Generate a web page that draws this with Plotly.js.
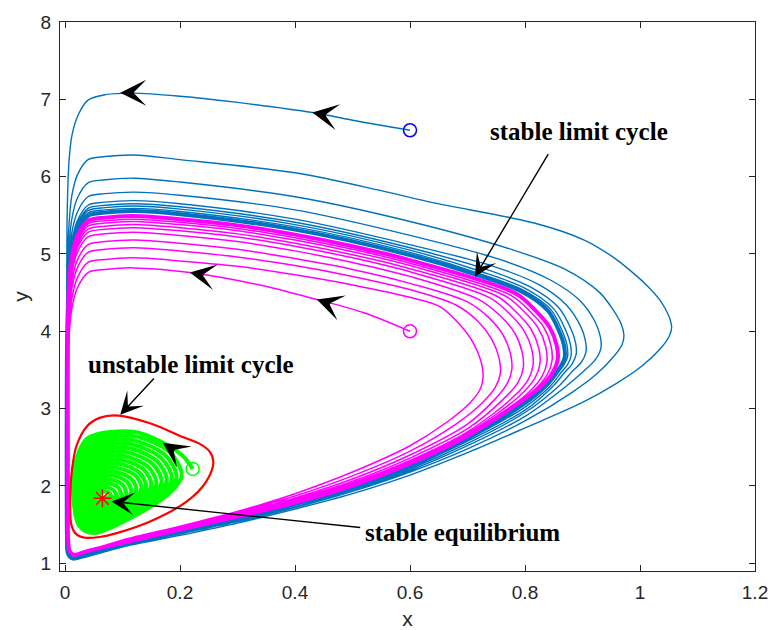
<!DOCTYPE html>
<html><head><meta charset="utf-8">
<script src="https://cdn.plot.ly/plotly-3.0.1.min.js"></script>
<style>html,body{margin:0;padding:0;background:#fff}#chart{width:768px;height:630px}</style>
</head><body><div id="chart"></div>
<script>
// ---- data ----
const xTickVals = [0, 0.2, 0.4, 0.6, 0.8, 1, 1.2];
const yTickVals = [1, 2, 3, 4, 5, 6, 7, 8];
const blueStart = [0.6, 6.6];
const magentaStart = [0.6, 4.0];
const greenStart = [0.222, 2.22];
const equilibrium = [0.065, 1.84];

const blueTrajectory = [
[0.6,6.6],[0.5,6.73],[0.43,6.83],[0.3,6.96],[0.2,7.04],[0.12,7.08],[0.07,7.06],[0.04,6.99],[0.023,6.8],[0.012,6.53],[0.007,6.2],[0.004,5.6],[0.003,4.5],[0.003,3.2],[0.003,2.2],[0.0035,1.4],[0.005,1.15],[0.012,1.05],[0.03,1.07],
[0.1,1.21],[0.2,1.36],[0.3,1.52],[0.4,1.7],[0.5,1.9],[0.6,2.14],[0.7,2.43],[0.8,2.75],[0.9,3.08],[0.96,3.33],[1.005,3.56],[1.036,3.78],[1.051,3.94],
[1.055,4.05],[1.05,4.2],[1.035,4.4],[1.015,4.57],[0.995,4.71],[0.955,4.95],[0.903,5.18],[0.816,5.40],[0.642,5.66],[0.555,5.81],[0.4,6.05],[0.2,6.22],[0.12,6.28],[0.07,6.26],[0.04,6.22],[0.022,6.03],[0.012,5.76],[0.007,5.38],[0.004,4.78],
[0.003,3.5],[0.003,2.2],[0.0035,1.4],[0.005,1.15],[0.012,1.055],[0.03,1.075],
[0.1,1.22],[0.2,1.38],[0.3,1.54],[0.4,1.72],[0.5,1.93],[0.6,2.18],[0.7,2.48],[0.8,2.84],[0.88,3.2],[0.925,3.45],[0.955,3.68],[0.969,3.83],
[0.972,3.95],[0.967,4.1],[0.953,4.28],[0.93,4.5],[0.87,4.8],[0.78,5.05],[0.6,5.42],[0.4,5.74],[0.2,5.93],[0.12,5.98],[0.07,5.96],[0.04,5.92],[0.022,5.73],[0.012,5.46],[0.007,5.08],[0.004,4.48],
[0.003,3.5],[0.003,2.2],[0.0035,1.4],[0.005,1.15],[0.012,1.058],[0.03,1.078],
[0.1,1.23],[0.2,1.39],[0.3,1.55],[0.4,1.73],[0.5,1.95],[0.6,2.2],[0.7,2.52],[0.8,2.9],[0.87,3.28],[0.9,3.47],[0.922,3.63],
[0.932,3.78],[0.931,3.93],[0.922,4.12],[0.895,4.4],[0.845,4.66],[0.76,4.92],[0.6,5.24],[0.4,5.57],[0.2,5.76],[0.12,5.80],[0.07,5.78],[0.04,5.74],[0.022,5.55],[0.012,5.28],[0.007,4.9],[0.004,4.3],
[0.003,3.5],[0.003,2.2],[0.0035,1.4],[0.005,1.15],[0.012,1.06],[0.03,1.08],
[0.1,1.235],[0.2,1.4],[0.3,1.56],[0.4,1.75],[0.5,1.96],[0.6,2.22],[0.7,2.55],[0.8,2.95],[0.86,3.3],[0.882,3.48],[0.898,3.6],
[0.906,3.73],[0.905,3.88],[0.897,4.06],[0.872,4.34],[0.825,4.6],[0.745,4.84],[0.6,5.12],[0.4,5.45],[0.2,5.65],[0.12,5.69],[0.07,5.67],[0.04,5.63],[0.022,5.44],[0.012,5.17],[0.007,4.79],[0.004,4.2],
[0.003,3.5],[0.003,2.2],[0.0035,1.4],[0.005,1.15],[0.012,1.062],[0.03,1.082],
[0.1,1.24],[0.2,1.405],[0.3,1.57],[0.4,1.755],[0.5,1.97],[0.6,2.24],[0.7,2.58],[0.8,2.98],[0.85,3.3],[0.868,3.46],[0.882,3.58],
[0.889,3.70],[0.888,3.85],[0.88,4.03],[0.858,4.31],[0.81,4.57],[0.733,4.8],[0.6,5.08],[0.4,5.41],[0.2,5.61],[0.12,5.65],[0.07,5.63],[0.04,5.59],[0.022,5.4],[0.012,5.13],[0.007,4.75],[0.004,4.15],
[0.003,3.5],[0.003,2.2],[0.0035,1.4],[0.005,1.15],[0.012,1.064],[0.03,1.084],
[0.1,1.245],[0.2,1.41],[0.3,1.58],[0.4,1.76],[0.5,1.98],[0.6,2.25],[0.7,2.6],[0.8,3.02],[0.845,3.3],[0.862,3.46],[0.874,3.57],
[0.88,3.68],[0.879,3.83],[0.871,4.01],[0.85,4.29],[0.802,4.55],[0.725,4.77],[0.6,5.05],[0.4,5.38],[0.2,5.58],[0.12,5.62],[0.07,5.6],[0.04,5.56],[0.022,5.37],[0.012,5.1],[0.007,4.72],[0.004,4.12],
[0.003,3.5],[0.003,2.2],[0.0035,1.4],[0.005,1.15],[0.012,1.066],[0.03,1.086],
[0.1,1.25],[0.2,1.415],[0.3,1.585],[0.4,1.765],[0.5,1.985],[0.6,2.26],[0.7,2.61],[0.8,3.05],[0.84,3.3],[0.857,3.46],[0.868,3.57],
[0.874,3.67],[0.873,3.82],[0.865,4.0],[0.845,4.28],[0.798,4.53],[0.72,4.75],[0.6,5.02],[0.4,5.35],[0.2,5.55],[0.12,5.59],[0.07,5.57],[0.04,5.53],[0.022,5.34],[0.012,5.07],[0.007,4.69],[0.004,4.1],
[0.003,3.5],[0.003,2.2],[0.0035,1.4],[0.005,1.15],[0.012,1.068],[0.03,1.088],
[0.1,1.255],[0.2,1.42],[0.3,1.59],[0.4,1.77],[0.5,1.99],[0.6,2.27],[0.7,2.62],[0.8,3.08],[0.84,3.33],[0.855,3.47],[0.864,3.57],[0.869,3.66]
];

const blueLimitBand = [
[0.869,3.66],[0.868,3.81],[0.86,3.99],[0.84,4.265],[0.794,4.515],[0.716,4.73],[0.6,4.985],[0.4,5.315],[0.2,5.515],[0.12,5.555],[0.07,5.535],[0.04,5.495],[0.022,5.305],[0.012,5.035],[0.007,4.655],[0.004,4.05],[0.003,3.0],[0.003,2.0],[0.0035,1.35],[0.005,1.13],[0.012,1.065],[0.03,1.09],
[0.1,1.255],[0.2,1.42],[0.3,1.59],[0.4,1.77],[0.5,1.99],[0.6,2.27],[0.7,2.62],[0.8,3.08],[0.84,3.33],[0.855,3.47],[0.864,3.57],[0.869,3.66]
];

const magentaTrajectory = [
[0.6,4.0],[0.52,4.24],[0.438,4.41],[0.35,4.58],[0.217,4.76],[0.12,4.82],[0.07,4.8],[0.04,4.76],[0.022,4.57],[0.012,4.3],[0.007,3.92],[0.005,3.32],[0.005,2.5],[0.005,1.7],[0.0055,1.3],[0.008,1.16],[0.015,1.11],[0.04,1.16],
[0.1,1.3],[0.2,1.48],[0.3,1.67],[0.4,1.9],[0.5,2.18],[0.6,2.52],[0.665,2.83],[0.705,3.08],[0.722,3.25],
[0.727,3.4],[0.724,3.6],[0.71,3.85],[0.685,4.1],[0.652,4.32],[0.6,4.44],[0.5,4.6],[0.4,4.73],[0.3,4.84],[0.2,4.91],[0.12,4.95],[0.07,4.93],[0.04,4.89],[0.022,4.7],[0.012,4.43],[0.007,4.05],[0.005,3.45],
[0.005,2.5],[0.005,1.7],[0.0055,1.3],[0.008,1.16],[0.015,1.11],[0.04,1.16],
[0.1,1.295],[0.2,1.47],[0.3,1.66],[0.4,1.87],[0.5,2.13],[0.6,2.45],[0.68,2.8],[0.725,3.07],[0.748,3.27],
[0.757,3.45],[0.755,3.65],[0.742,3.9],[0.718,4.13],[0.68,4.34],[0.6,4.54],[0.5,4.71],[0.4,4.85],[0.3,4.96],[0.2,5.04],[0.12,5.08],[0.07,5.06],[0.04,5.02],[0.022,4.83],[0.012,4.56],[0.007,4.18],[0.005,3.58],
[0.005,2.5],[0.005,1.7],[0.0055,1.3],[0.008,1.16],[0.015,1.11],[0.04,1.16],
[0.1,1.29],[0.2,1.46],[0.3,1.645],[0.4,1.845],[0.5,2.09],[0.6,2.4],[0.7,2.8],[0.745,3.1],[0.768,3.31],
[0.777,3.5],[0.775,3.7],[0.762,3.95],[0.738,4.17],[0.7,4.38],[0.6,4.62],[0.5,4.8],[0.4,4.94],[0.3,5.06],[0.2,5.14],[0.12,5.18],[0.07,5.16],[0.04,5.12],[0.022,4.93],[0.012,4.66],[0.007,4.28],[0.005,3.68],
[0.005,2.5],[0.005,1.7],[0.0055,1.3],[0.008,1.16],[0.015,1.11],[0.04,1.16],
[0.1,1.285],[0.2,1.455],[0.3,1.635],[0.4,1.825],[0.5,2.06],[0.6,2.36],[0.7,2.74],[0.762,3.12],[0.788,3.34],
[0.797,3.53],[0.795,3.73],[0.782,3.98],[0.757,4.2],[0.72,4.41],[0.6,4.71],[0.5,4.89],[0.4,5.04],[0.3,5.16],[0.2,5.24],[0.12,5.28],[0.07,5.26],[0.04,5.22],[0.022,5.03],[0.012,4.76],[0.007,4.38],[0.005,3.78],
[0.005,2.5],[0.005,1.7],[0.0055,1.3],[0.008,1.16],[0.015,1.11],[0.04,1.16],
[0.1,1.28],[0.2,1.45],[0.3,1.625],[0.4,1.81],[0.5,2.04],[0.6,2.33],[0.7,2.7],[0.778,3.14],[0.805,3.37],
[0.814,3.56],[0.812,3.76],[0.799,4.0],[0.774,4.22],[0.74,4.43],[0.6,4.77],[0.5,4.95],[0.4,5.1],[0.3,5.22],[0.2,5.3],[0.12,5.34],[0.07,5.32],[0.04,5.28],[0.022,5.09],[0.012,4.82],[0.007,4.44],[0.005,3.84],
[0.005,2.5],[0.005,1.7],[0.0055,1.3],[0.008,1.16],[0.015,1.11],[0.04,1.16],
[0.1,1.275],[0.2,1.445],[0.3,1.615],[0.4,1.8],[0.5,2.025],[0.6,2.315],[0.7,2.68],[0.79,3.16],[0.817,3.39],
[0.826,3.58],[0.824,3.78],[0.811,4.02],[0.786,4.24],[0.752,4.45],[0.6,4.81],[0.5,4.99],[0.4,5.14],[0.3,5.26],[0.2,5.34],[0.12,5.38],[0.07,5.36],[0.04,5.32],[0.022,5.13],[0.012,4.86],[0.007,4.48],[0.005,3.88],
[0.005,2.5],[0.005,1.7],[0.0055,1.3],[0.008,1.16],[0.015,1.11],[0.04,1.16],
[0.1,1.27],[0.2,1.44],[0.3,1.61],[0.4,1.795],[0.5,2.015],[0.6,2.3],[0.7,2.665],[0.802,3.18],[0.829,3.41],
[0.838,3.6],[0.836,3.8],[0.823,4.04],[0.798,4.26],[0.765,4.46],[0.6,4.85],[0.5,5.03],[0.4,5.18],[0.3,5.3],[0.2,5.38],[0.12,5.42],[0.07,5.4],[0.04,5.36],[0.022,5.17],[0.012,4.9],[0.007,4.52],[0.005,3.92],
[0.005,2.5],[0.005,1.7],[0.0055,1.3],[0.008,1.16],[0.015,1.11],[0.04,1.16],
[0.1,1.268],[0.2,1.437],[0.3,1.607],[0.4,1.79],[0.5,2.01],[0.6,2.295],[0.7,2.655],[0.81,3.2],[0.838,3.43],
[0.847,3.62],[0.845,3.82],[0.832,4.06],[0.807,4.27],[0.774,4.47],[0.6,4.88],[0.5,5.06],[0.4,5.21],[0.3,5.33],[0.2,5.41],[0.12,5.45],[0.07,5.43],[0.04,5.39],[0.022,5.2],[0.012,4.93],[0.007,4.55],[0.005,3.95],
[0.005,2.5],[0.005,1.7],[0.0055,1.3],[0.008,1.16],[0.015,1.11],[0.04,1.16],
[0.1,1.265],[0.2,1.435],[0.3,1.605],[0.4,1.785],[0.5,2.005],[0.6,2.29],[0.7,2.65],[0.82,3.24],[0.845,3.43],[0.857,3.64]
];

const magentaLimitBand = [
[0.857,3.64],[0.855,3.82],[0.843,4.05],[0.818,4.27],[0.784,4.49],[0.6,4.92],[0.5,5.1],[0.4,5.25],[0.3,5.37],[0.2,5.45],[0.12,5.49],[0.07,5.47],[0.04,5.43],[0.022,5.24],[0.012,4.97],[0.007,4.59],[0.005,3.99],
[0.005,2.5],[0.005,1.7],[0.0055,1.3],[0.008,1.16],[0.015,1.11],[0.04,1.16],
[0.1,1.265],[0.2,1.435],[0.3,1.605],[0.4,1.785],[0.5,2.005],[0.6,2.29],[0.7,2.65],[0.82,3.24],[0.845,3.43],[0.857,3.64]
];

const greenTrajectory = [
[0.222,2.22],[0.206,2.38],[0.17,2.56],[0.12,2.70],[0.04,2.62],[0.018,2.30],[0.014,1.90],[0.025,1.48],[0.05,1.39],[0.13,1.65],[0.185,1.93],
[0.203,2.131],[0.183,2.432],[0.117,2.648],[0.042,2.573],[0.021,2.272],[0.017,1.896],[0.027,1.502],[0.051,1.417],[0.126,1.661],[0.178,1.925],
[0.194,2.113],[0.175,2.394],[0.113,2.597],[0.043,2.526],[0.024,2.245],[0.020,1.893],[0.030,1.523],[0.052,1.444],[0.122,1.673],[0.171,1.919],
[0.186,2.094],[0.168,2.357],[0.110,2.545],[0.045,2.48],[0.027,2.217],[0.023,1.889],[0.032,1.545],[0.053,1.471],[0.118,1.684],[0.163,1.914],
[0.177,2.076],[0.160,2.319],[0.107,2.494],[0.046,2.433],[0.029,2.19],[0.026,1.886],[0.035,1.566],[0.054,1.498],[0.114,1.696],[0.156,1.908],
[0.168,2.057],[0.153,2.281],[0.104,2.442],[0.048,2.386],[0.032,2.162],[0.029,1.882],[0.037,1.588],[0.055,1.525],[0.111,1.707],[0.149,1.903],
[0.159,2.038],[0.145,2.243],[0.100,2.39],[0.049,2.339],[0.035,2.134],[0.032,1.878],[0.039,1.61],[0.055,1.552],[0.107,1.718],[0.142,1.898],
[0.150,2.02],[0.138,2.205],[0.097,2.339],[0.051,2.292],[0.038,2.107],[0.035,1.875],[0.042,1.631],[0.056,1.579],[0.103,1.73],[0.135,1.892],
[0.141,2.001],[0.130,2.168],[0.094,2.287],[0.052,2.246],[0.041,2.079],[0.038,1.871],[0.044,1.653],[0.057,1.606],[0.099,1.741],[0.127,1.887],
[0.133,1.983],[0.123,2.13],[0.090,2.236],[0.054,2.199],[0.043,2.052],[0.042,1.868],[0.047,1.674],[0.058,1.633],[0.095,1.753],[0.120,1.881],
[0.124,1.964],[0.115,2.092],[0.087,2.184],[0.055,2.152],[0.046,2.024],[0.045,1.864],[0.049,1.696],[0.059,1.66],[0.091,1.764],[0.113,1.876],
[0.115,1.945],[0.108,2.054],[0.084,2.132],[0.057,2.105],[0.049,1.996],[0.048,1.86],[0.051,1.718],[0.060,1.687],[0.087,1.775],[0.106,1.871],
[0.106,1.927],[0.100,2.016],[0.080,2.081],[0.058,2.058],[0.052,1.969],[0.051,1.857],[0.054,1.739],[0.061,1.714],[0.083,1.787],[0.099,1.865],
[0.097,1.908],[0.093,1.979],[0.077,2.029],[0.060,2.012],[0.055,1.941],[0.054,1.853],[0.056,1.761],[0.062,1.741],[0.079,1.798],[0.091,1.86],
[0.089,1.89],[0.085,1.941],[0.074,1.978],[0.061,1.965],[0.058,1.914],[0.057,1.85],[0.059,1.782],[0.063,1.768],[0.075,1.81],[0.084,1.854],
[0.080,1.871],[0.078,1.903],[0.071,1.926],[0.063,1.918],[0.060,1.886],[0.060,1.846],[0.061,1.804],[0.064,1.795],[0.072,1.821],[0.077,1.849],
[0.071,1.852],[0.065,1.84]
];

const unstableCycle = [
[0.258,2.30],[0.252,2.44],[0.233,2.55],[0.206,2.63],[0.148,2.81],[0.093,2.91],[0.06,2.88],[0.038,2.77],[0.02,2.52],[0.012,2.2],[0.009,1.8],[0.011,1.5],[0.019,1.38],[0.035,1.33],[0.06,1.34],[0.09,1.39],[0.148,1.54],[0.212,1.80],[0.245,2.05],[0.258,2.30]
];

const labelTexts = ['stable limit cycle', 'unstable limit cycle', 'stable equilibrium'];

// ---- drawing ----
const X = a => a.map(p => p[0]);
const Y = a => a.map(p => p[1]);
function curve(pts, color, width) {
  return {x: X(pts), y: Y(pts), type: 'scatter', mode: 'lines', hoverinfo: 'skip',
          line: {color: color, width: width, shape: 'spline', smoothing: 0.9}};
}
function marker(pt, symbol, color, size) {
  return {x: [pt[0]], y: [pt[1]], type: 'scatter', mode: 'markers', hoverinfo: 'skip',
          marker: {symbol: symbol, size: size, color: color, line: {color: color, width: 1.5}}};
}
const BLUE = '#0072BD', MAG = '#FF00FF', GREEN = '#00FF00', RED = '#FF0000';
const traces = [
  curve(blueTrajectory, BLUE, 1.4),
  curve(blueLimitBand, BLUE, 4),
  curve(magentaTrajectory, MAG, 1.5),
  curve(magentaLimitBand, MAG, 4),
  curve(greenTrajectory, GREEN, 4),
  curve(unstableCycle, RED, 2.2),
  marker(blueStart, 'circle-open', '#0000FF', 13),
  marker(magentaStart, 'circle-open', MAG, 13),
  marker(greenStart, 'circle-open', GREEN, 13),
  marker(equilibrium, 'asterisk-open', RED, 15)
];

function head(x, y, ax, ay) {
  return {x: x, y: y, ax: ax, ay: ay, text: '', showarrow: true, arrowhead: 3,
          arrowsize: 2.9, arrowwidth: 1.5, arrowcolor: '#000'};
}
function pointer(x, y, ax, ay) {
  return {x: x, y: y, ax: ax, ay: ay, axref: 'x', ayref: 'y', text: '', showarrow: true,
          arrowhead: 3, arrowsize: 2.7, arrowwidth: 1.4, arrowcolor: '#000'};
}
function label(x, y, t) {
  return {x: x, y: y, text: '<b>' + t + '</b>', showarrow: false,
          font: {family: 'Liberation Serif', size: 25, color: '#000'}};
}
const annotations = [
  head(0.096, 7.085, 10, 0),
  head(0.43, 6.83, 9.8, 1.8),
  head(0.217, 4.76, 9.8, 1.8),
  head(0.438, 4.41, 9.5, 3.2),
  head(0.17, 2.56, 8.3, 5.6),
  pointer(0.713, 4.706, 0.842, 6.31),
  pointer(0.096, 2.92, 0.157, 3.41),
  pointer(0.081, 1.80, 0.516, 1.46),
  label(0.894, 6.582, labelTexts[0]),
  label(0.219, 3.568, labelTexts[1]),
  label(0.692, 1.395, labelTexts[2])
];

const axisCommon = {
  showline: true, linecolor: '#262626', linewidth: 1, mirror: 'ticks',
  ticks: 'inside', ticklen: 6, tickcolor: '#262626', showgrid: false, zeroline: false,
  ticklabeloverflow: 'allow',
  tickfont: {family: 'Liberation Sans, Arial, sans-serif', size: 19, color: '#262626'}
};
const layout = {
  width: 768, height: 630,
  margin: {l: 60, r: 13, t: 22, b: 59},
  paper_bgcolor: '#fff', plot_bgcolor: '#fff',
  showlegend: false,
  xaxis: Object.assign({}, axisCommon, {range: [-0.0087, 1.2], tickvals: xTickVals,
    ticktext: xTickVals.map(String), ticklabelstandoff: 4,
    title: {text: 'x', font: {family: 'Liberation Sans, Arial, sans-serif', size: 21, color: '#262626'}, standoff: 10}}),
  yaxis: Object.assign({}, axisCommon, {range: [0.9, 8], tickvals: yTickVals, ticklabelstandoff: 4,
    title: {text: 'y', font: {family: 'Liberation Sans, Arial, sans-serif', size: 21, color: '#262626'}, standoff: 6}}),
  annotations: annotations
};
Plotly.newPlot('chart', traces, layout, {staticPlot: true, displayModeBar: false});
</script>
</body></html>
